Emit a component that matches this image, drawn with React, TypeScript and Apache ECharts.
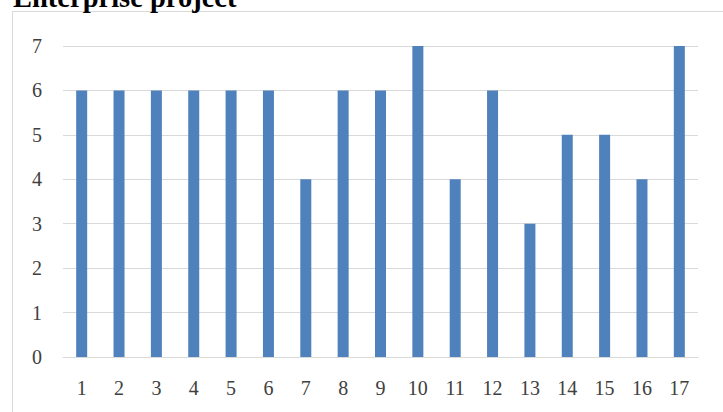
import React, { useEffect, useRef } from "react";
import * as echarts from "echarts";

const categories = ["1","2","3","4","5","6","7","8","9","10","11","12","13","14","15","16","17"];
const values = [6, 6, 6, 6, 6, 6, 4, 6, 6, 7, 4, 6, 3, 5, 5, 4, 7];
const titleText = "Enterprise project";

export default function App() {
  const ref = useRef<HTMLDivElement>(null);
  useEffect(() => {
    document.body.style.margin = "0";
    const chart = echarts.init(ref.current!, undefined, { renderer: "svg" });
    const font = '"Liberation Serif", "Times New Roman", serif';
    chart.setOption({
      animation: false,
      backgroundColor: "#ffffff",
      grid: { left: 63, right: 25, top: 46, bottom: 55 },
      xAxis: {
        type: "category",
        data: categories,
        axisLine: { lineStyle: { color: "#d9d9d9", width: 1 } },
        axisTick: { show: false },
        axisLabel: { color: "#404040", fontFamily: font, fontSize: 20, margin: 21 },
      },
      yAxis: {
        type: "value",
        min: 0,
        max: 7,
        interval: 1,
        axisLine: { show: false },
        axisTick: { show: false },
        splitLine: { lineStyle: { color: "#d9d9d9", width: 1 } },
        axisLabel: { color: "#404040", fontFamily: font, fontSize: 20, margin: 21 },
      },
      series: [
        {
          type: "bar",
          data: values,
          barWidth: 11,
          itemStyle: { color: "#4f81bd" },
        },
      ],
      graphic: [
        {
          type: "rect",
          shape: { x: 12.5, y: 11.5, width: 800, height: 500 },
          style: { fill: "none", stroke: "#d9d9d9", lineWidth: 1 },
          silent: true,
          z: -1,
        },
        {
          type: "text",
          x: 13,
          y: -2.5,
          style: {
            text: titleText,
            font: 'bold 28.5px "Liberation Serif", "Times New Roman", serif',
            fill: "#000000",
            textVerticalAlign: "middle",
          },
        },
      ],
    });
    return () => chart.dispose();
  }, []);
  return <div ref={ref} style={{ width: 723, height: 412 }} />;
}
